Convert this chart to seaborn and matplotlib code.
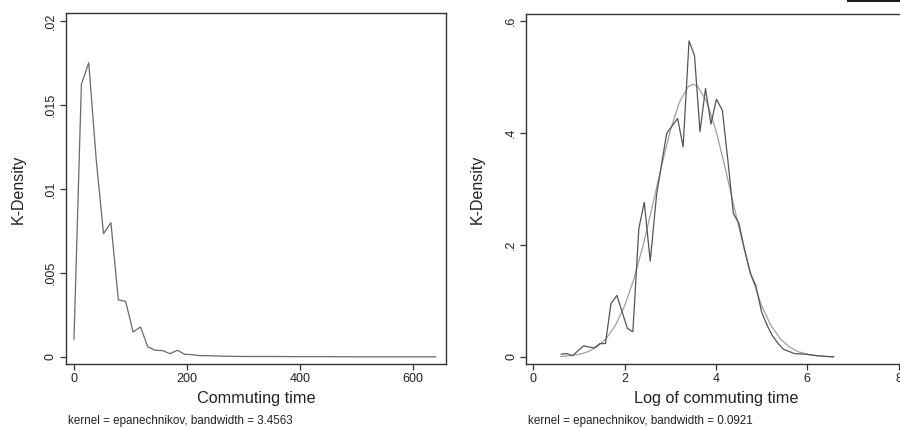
import matplotlib
matplotlib.use("Agg")
import matplotlib.pyplot as plt
import seaborn as sns
from matplotlib.patches import Rectangle

# ---------------- data ----------------
commute_x = [0, 13.1, 26.1, 39.2, 52.2, 65.3, 78.4, 91.4, 104.5, 117.6, 130.6,
             143.7, 156.7, 169.8, 182.9, 195.9, 209.0, 222.0, 235.1, 261.2,
             300.0, 350.0, 400.0, 450.0, 500.0, 550.0, 600.0, 640.0]
commute_y = [0.00105, 0.01623, 0.01752, 0.0118, 0.00734, 0.0080, 0.00341,
             0.00331, 0.00149, 0.00179, 0.00060, 0.00040, 0.00038, 0.00020,
             0.00040, 0.00016, 0.00014, 0.00008, 0.00008, 0.00005,
             0.00003, 0.00003, 0.00002, 0.00002, 0.00001, 0.00001, 0.00001, 0.00001]

log_x = [0.61, 0.73, 0.86, 1.10, 1.33, 1.46, 1.58, 1.70, 1.83, 2.06, 2.18,
         2.31, 2.43, 2.56, 2.70, 2.92, 3.16, 3.28, 3.41, 3.53, 3.65, 3.77,
         3.89, 4.01, 4.14, 4.26, 4.38, 4.50, 4.63, 4.75, 4.87, 5.00, 5.12,
         5.23, 5.36, 5.48, 5.72, 5.96, 6.21, 6.58]
log_y = [0.005, 0.006, 0.0024, 0.020, 0.016, 0.024, 0.024, 0.095, 0.110,
         0.051, 0.045, 0.229, 0.276, 0.171, 0.290, 0.399, 0.4256, 0.375,
         0.564, 0.5375, 0.402, 0.479, 0.4155, 0.460, 0.440, 0.351, 0.256,
         0.239, 0.190, 0.149, 0.128, 0.080, 0.0565, 0.0387, 0.024, 0.0137,
         0.006, 0.005, 0.0024, 0.0]

normal_x = [0.6, 0.8, 1.0, 1.2, 1.4, 1.6, 1.8, 2.0, 2.2, 2.4, 2.6, 2.8, 3.0,
            3.2, 3.4, 3.5, 3.6, 3.8, 4.0, 4.2, 4.4, 4.6, 4.8, 5.0, 5.2, 5.4,
            5.6, 5.8, 6.0, 6.2, 6.4, 6.58]
normal_y = [0.0009, 0.0022, 0.0047, 0.0095, 0.0183, 0.0332, 0.0567, 0.0913,
            0.1385, 0.198, 0.2663, 0.338, 0.404, 0.455, 0.483, 0.4865, 0.483,
            0.455, 0.404, 0.338, 0.2663, 0.198, 0.1385, 0.0913, 0.0567,
            0.0332, 0.0183, 0.0095, 0.0047, 0.0022, 0.0009, 0.0004]

left_xticks = [0, 200, 400, 600]
left_xticklabels = ["0", "200", "400", "600"]
left_yticks = [0, 0.005, 0.01, 0.015, 0.02]
left_yticklabels = ["0", ".005", ".01", ".015", ".02"]
right_xticks = [0, 2, 4, 6, 8]
right_xticklabels = ["0", "2", "4", "6", "8"]
right_yticks = [0, 0.2, 0.4, 0.6]
right_yticklabels = ["0", ".2", ".4", ".6"]

left_xlabel = "Commuting time"
right_xlabel = "Log of commuting time"
ylabel = "K-Density"
left_note = "kernel = epanechnikov, bandwidth = 3.4563"
right_note = "kernel = epanechnikov, bandwidth = 0.0921"

# ---------------- style ----------------
sns.set_theme(style="white")
plt.rcParams["font.family"] = ["Liberation Sans", "DejaVu Sans"]

W, H = 900, 429
fig = plt.figure(figsize=(9, 4.29), dpi=100)

def fx(px):
    return px / W

def fy(py):
    return 1 - py / H

ax1 = fig.add_axes([fx(66), fy(364), fx(446 - 66), (364 - 13) / H])
ax2 = fig.add_axes([fx(526.3), fy(364), fx(906 - 526.3), (364 - 14) / H])

spine_col = "#333333"

def style_axes(ax):
    for s in ax.spines.values():
        s.set_color(spine_col)
        s.set_linewidth(1.0)
        s.set_visible(True)
    ax.tick_params(axis="both", direction="out", length=4, width=0.9,
                   color=spine_col, labelsize=9, labelcolor="#222222",
                   bottom=True, left=True, top=False, right=False, pad=2.5)
    for lab in ax.get_yticklabels():
        lab.set_rotation(90)
        lab.set_va("center")
    ax.grid(False)

# Left panel
sns.lineplot(x=commute_x, y=commute_y, ax=ax1, color="#6a6a6a", lw=0.9,
             sort=False, estimator=None)
ax1.set_xlim(-14.1, 657.8)
ax1.set_ylim(-0.000417, 0.02048)
ax1.set_xticks(left_xticks)
ax1.set_xticklabels(left_xticklabels)
ax1.set_yticks(left_yticks)
ax1.set_yticklabels(left_yticklabels)
style_axes(ax1)

# Right panel
sns.lineplot(x=normal_x, y=normal_y, ax=ax2, color="#a0a0a0", lw=0.9,
             sort=False, estimator=None)
sns.lineplot(x=log_x, y=log_y, ax=ax2, color="#555555", lw=0.9,
             sort=False, estimator=None)
ax2.set_xlim(-0.153, 8.16)
ax2.set_ylim(-0.0125, 0.612)
ax2.set_xticks(right_xticks)
ax2.set_xticklabels(right_xticklabels)
ax2.set_yticks(right_yticks)
ax2.set_yticklabels(right_yticklabels)
style_axes(ax2)

for ax in (ax1, ax2):
    ax.set_xlabel("")
    ax.set_ylabel("")

# Axis titles and notes as figure text
fig.text(fx(18), fy(189), ylabel, rotation=90, ha="center", va="center",
         fontsize=11.5, color="#222222")
fig.text(fx(477), fy(189), ylabel, rotation=90, ha="center", va="center",
         fontsize=11.5, color="#222222")
fig.text(fx(256), fy(398), left_xlabel, ha="center", va="center",
         fontsize=11.7, color="#222222")
fig.text(fx(716.5), fy(398), right_xlabel, ha="center", va="center",
         fontsize=11.7, color="#222222")
fig.text(fx(68), fy(421), left_note, ha="left", va="center",
         fontsize=8.4, color="#222222")
fig.text(fx(528.3), fy(421), right_note, ha="left", va="center",
         fontsize=8.4, color="#222222")

# dark bar at the top-right corner
fig.patches.append(Rectangle((fx(847), fy(2)), fx(53), 2 / H,
                             transform=fig.transFigure, facecolor="#1a1a1a",
                             edgecolor="none"))

fig.savefig("out.png", dpi=100)
